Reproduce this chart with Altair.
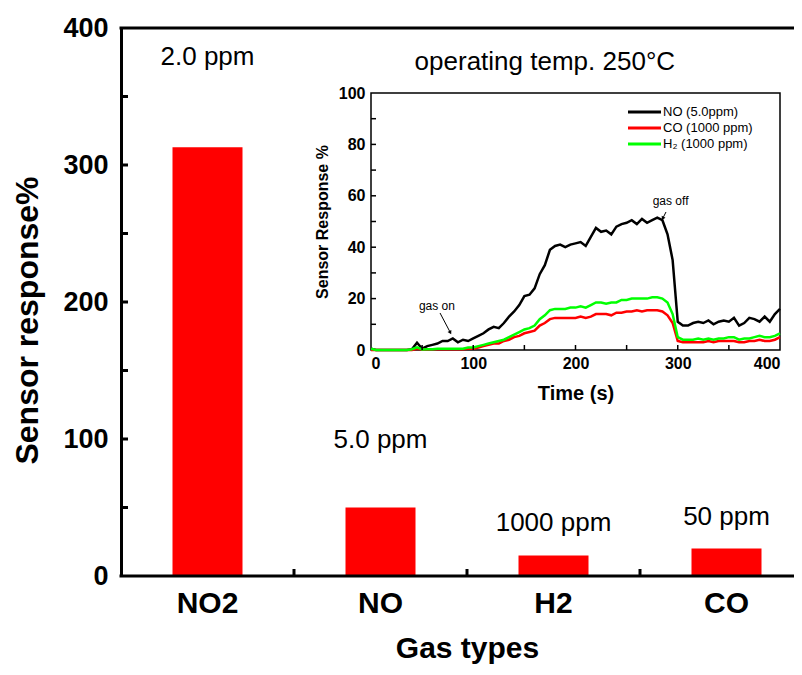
import altair as alt
import pandas as pd

# ---------------- data ----------------
gases = ["NO2", "NO", "H2", "CO"]
responses = [313, 50, 15, 20]
conc_labels = ["2.0 ppm", "5.0 ppm", "1000 ppm", "50 ppm"]
conc_label_y = [379, 99, 39, 43]
main_y_labels = [0, 100, 200, 300, 400]
main_y_ticks = [50, 100, 150, 200, 250, 300, 350]

time_s = list(range(0, 401, 5))
no_resp = [0.5, 0, 0, 0, 0, 0, 0, 0, 0.3, 2.8,
           0.5, 1.5, 2, 2.5, 3.5, 3.5, 4.5, 3, 4, 3.5,
           4.5, 5.5, 6.5, 8, 9, 8.5, 10.5, 13, 15, 17.5,
           21, 21.5, 24, 29.5, 33, 39, 40.5, 41, 40, 41,
           41.5, 42, 40.5, 44, 47.5, 46, 46.5, 45, 48, 49,
           49.5, 50.5, 49, 51, 49.5, 50.5, 51.5, 50.5, 45, 35,
           11, 9.5, 9.5, 10.5, 11, 10.5, 11.5, 10, 11, 11.5,
           11, 12.5, 9.5, 10.5, 12.5, 12, 11, 13, 11, 14,
           16]
h2_resp = [0.5, 0, 0, 0, 0, 0, 0, 0, 0.3, 1,
           0.2, 0.3, 0.3, 0.5, 0.5, 0.5, 0.5, 0.5, 0.5, 1,
           1, 1.5, 2, 2.5, 3, 3.5, 4, 5, 6, 7,
           8, 8.5, 9.5, 12, 13.5, 15.5, 16, 16, 16, 16.5,
           16.5, 17, 16.5, 17.5, 18.5, 18.5, 18, 18.5, 18.5, 19.5,
           19.5, 20, 20, 20, 20, 20.5, 20.5, 20, 18.5, 14,
           5, 4, 4, 4, 4.5, 4, 4.5, 4, 4.5, 4.5,
           5, 5, 4, 4.5, 4.5, 5, 5.5, 5, 5, 5.5,
           6.5]
co_resp = [0, 0, 0, 0, 0, 0, 0, 0, 0, 0.5,
           0.2, 0.2, 0.3, 0.3, 0.3, 0.3, 0.3, 0.3, 0.3, 0.5,
           0.5, 1, 1.5, 2, 2.5, 2.5, 3.5, 4, 5, 5.5,
           6.5, 7, 7.5, 9.5, 10.5, 12, 12.5, 12.5, 12.5, 12.5,
           12.5, 13, 12.5, 13, 14, 14, 14, 13.5, 14.5, 14.5,
           15, 15, 15.5, 15, 15.5, 15.5, 15.5, 15, 13.5, 10.5,
           3.5, 3, 3, 3, 3, 3, 3.5, 3, 3.5, 3.5,
           3.5, 3.5, 3, 3, 3.5, 3.5, 4, 3.5, 3.5, 4,
           5]
series_names = ["NO (5.0ppm)", "CO (1000 ppm)", "H\u2082 (1000 ppm)"]
series_colors = ["#000000", "#ff0000", "#00ff00"]
inset_x_labels = [0, 100, 200, 300, 400]
inset_y_labels = [0, 20, 40, 60, 80, 100]
inset_y_ticks = [10, 20, 30, 40, 50, 60, 70, 80, 90]
inset_x_ticks = [50, 100, 150, 200, 250, 300, 350]

note_text = ["gas on", "gas off"]
note_t = [64.5, 293]
note_v = [17, 58]
arrow_id = ["on", "on", "off", "off"]
arrow_t = [67.5, 77.3, 288.5, 285.6]
arrow_v = [14.4, 7, 53.7, 51.4]
head_t = [77.3, 285.6]
head_v = [7, 51.4]
head_angle = [152, 207]
temp_text = ["operating temp. 250\u00b0C"]
temp_t = [170]
temp_v = [112]

# ---------------- layout ----------------
FONT = "Liberation Sans"
PW, PH = 673, 548
XR = [0, 692]
IX = [250, 659]
IY = [322, 65]

# ---------------- main chart ----------------
bars_df = pd.DataFrame({"gas": gases, "resp": responses, "label": conc_labels, "ly": conc_label_y})
xs = alt.Scale(domain=gases, range=XR, paddingInner=0, paddingOuter=0)
ys = alt.Scale(domain=[0, 400], nice=False)
main_x_axis = alt.Axis(
    orient="bottom", title="Gas types", labelAngle=0, labelFontSize=30, labelFontWeight="bold",
    labelPadding=12, ticks=False, domain=False, titleFontSize=30,
    titleFontWeight="bold", titlePadding=15, grid=False)
main_y_axis = alt.Axis(
    orient="left", title="Sensor response%", values=main_y_labels, ticks=False,
    labelFontSize=27, labelFontWeight="bold", labelPadding=13, domainWidth=3,
    titleFontSize=32, titleFontWeight="bold", titlePadding=18, titleY=292, grid=False)

bars = alt.Chart(bars_df).mark_bar(color="#ff0000", width=70).encode(
    x=alt.X("gas:N", sort=gases, scale=xs, axis=main_x_axis),
    y=alt.Y("resp:Q", scale=ys, axis=main_y_axis),
)
conc = alt.Chart(bars_df).mark_text(fontSize=26, color="black", baseline="middle").encode(
    x=alt.X("gas:N", sort=gases, scale=xs, axis=main_x_axis),
    y=alt.Y("ly:Q", scale=ys, axis=main_y_axis),
    text="label:N",
)
yticks = alt.Chart(pd.DataFrame({"v": main_y_ticks})).mark_rule(strokeWidth=3, color="black").encode(
    y=alt.Y("v:Q", scale=ys, axis=main_y_axis), x=alt.value(0), x2=alt.value(7))
xticks = alt.Chart(pd.DataFrame({"gas": gases[1:]})).mark_rule(strokeWidth=3, color="black").encode(
    x=alt.X("gas:N", sort=gases, scale=xs, axis=main_x_axis, bandPosition=0),
    y=alt.value(PH), y2=alt.value(PH - 7))
frame_lines = alt.Chart(pd.DataFrame({"yy": [0, PH]})).mark_rule(strokeWidth=3, color="black").encode(
    x=alt.value(-1.5), x2=alt.value(PW), y=alt.Y("yy:Q", scale=None))
main = alt.layer(bars, conc, yticks, xticks, frame_lines)

# ---------------- inset ----------------
xi = alt.Scale(domain=[0, 400], range=IX, nice=False, zero=False)
yi = alt.Scale(domain=[0, 100], range=IY, nice=False)
cs = alt.Scale(domain=series_names, range=series_colors)
inset_x_axis = alt.Axis(
    orient="bottom", offset=-(PH - IY[0]), values=inset_x_labels, ticks=False, domain=False,
    labelFontSize=16, labelFontWeight="bold", labelPadding=5, title="Time (s)",
    titleFontSize=20, titleFontWeight="bold", titlePadding=12, grid=False)
inset_y_axis = alt.Axis(
    orient="left", offset=-IX[0], values=inset_y_labels, ticks=False, domain=False,
    labelFontSize=16, labelFontWeight="bold", labelPadding=6, title="Sensor Response %",
    titleFontSize=16, titleFontWeight="bold", titlePadding=8, grid=False)

rows = []
for name, vals in zip(series_names, [no_resp, co_resp, h2_resp]):
    for t, v in zip(time_s, vals):
        rows.append({"s": name, "t": t, "v": v})
lines_df = pd.DataFrame(rows)

frame = alt.Chart(pd.DataFrame({"k": [0]})).mark_rect(fill="white", stroke="black", strokeWidth=1.5).encode(
    x=alt.X(datum=0, scale=xi, axis=inset_x_axis), x2=alt.X2(datum=400),
    y=alt.Y(datum=0, scale=yi, axis=inset_y_axis), y2=alt.Y2(datum=100))
lines = alt.Chart(lines_df).mark_line(strokeWidth=2.5).encode(
    x=alt.X("t:Q", scale=xi, axis=inset_x_axis),
    y=alt.Y("v:Q", scale=yi, axis=inset_y_axis),
    color=alt.Color("s:N", scale=cs, legend=None),
    order=alt.Order("t:Q"),
)
iyt = alt.Chart(pd.DataFrame({"v": inset_y_ticks})).mark_rule(strokeWidth=1.5, color="black").encode(
    y=alt.Y("v:Q", scale=yi, axis=inset_y_axis), x=alt.value(IX[0]), x2=alt.value(IX[0] + 5))
ixt = alt.Chart(pd.DataFrame({"t": inset_x_ticks})).mark_rule(strokeWidth=1.5, color="black").encode(
    x=alt.X("t:Q", scale=xi, axis=inset_x_axis), y=alt.value(IY[0]), y2=alt.value(IY[0] - 5))
notes = alt.Chart(pd.DataFrame({"t": note_t, "v": note_v, "txt": note_text})).mark_text(
    fontSize=12, color="black").encode(
    x=alt.X("t:Q", scale=xi, axis=inset_x_axis), y=alt.Y("v:Q", scale=yi, axis=inset_y_axis),
    text="txt:N")
arrows = alt.Chart(pd.DataFrame({"id": arrow_id, "t": arrow_t, "v": arrow_v})).mark_line(
    strokeWidth=1, color="black").encode(
    x=alt.X("t:Q", scale=xi, axis=inset_x_axis), y=alt.Y("v:Q", scale=yi, axis=inset_y_axis),
    detail="id:N")
heads = alt.Chart(pd.DataFrame({"t": head_t, "v": head_v, "a": head_angle})).mark_point(
    shape="triangle", filled=True, size=18, color="black", opacity=1).encode(
    x=alt.X("t:Q", scale=xi, axis=inset_x_axis), y=alt.Y("v:Q", scale=yi, axis=inset_y_axis),
    angle=alt.Angle("a:Q", scale=None))
temp = alt.Chart(pd.DataFrame({"t": temp_t, "v": temp_v, "txt": temp_text})).mark_text(
    fontSize=26, color="black").encode(
    x=alt.X("t:Q", scale=xi, axis=inset_x_axis), y=alt.Y("v:Q", scale=yi, axis=inset_y_axis),
    text="txt:N")
inset = alt.layer(frame, lines, iyt, ixt, notes, arrows, heads, temp)

# ---------------- legend ----------------
leg_df = pd.DataFrame({"s": series_names, "row": [0, 1, 2]})
ly = alt.Scale(domain=[0, 2], range=[84, 116])
leg_lines = alt.Chart(leg_df).mark_rule(strokeWidth=3).encode(
    x=alt.value(507), x2=alt.value(540), y=alt.Y("row:Q", scale=ly, axis=None),
    color=alt.Color("s:N", scale=cs, legend=None))
leg_text = alt.Chart(leg_df).mark_text(align="left", baseline="middle", fontSize=13, color="black").encode(
    x=alt.value(542), y=alt.Y("row:Q", scale=ly, axis=None), text="s:N")
legend = alt.layer(leg_lines, leg_text)

chart = alt.layer(main, inset, legend).resolve_scale(
    x="independent", y="independent"
).properties(
    width=PW, height=PH,
    padding={"left": 113, "top": 20, "right": 0, "bottom": 88},
    autosize=alt.AutoSizeParams(type="none"),
).configure(font=FONT, background="white").configure_view(strokeWidth=0).configure_axis(
    labelColor="black", titleColor="black", domainColor="black",
    labelFont=FONT, titleFont=FONT,
)

chart.save("out.html", embed_options={"renderer": "svg", "actions": False})
